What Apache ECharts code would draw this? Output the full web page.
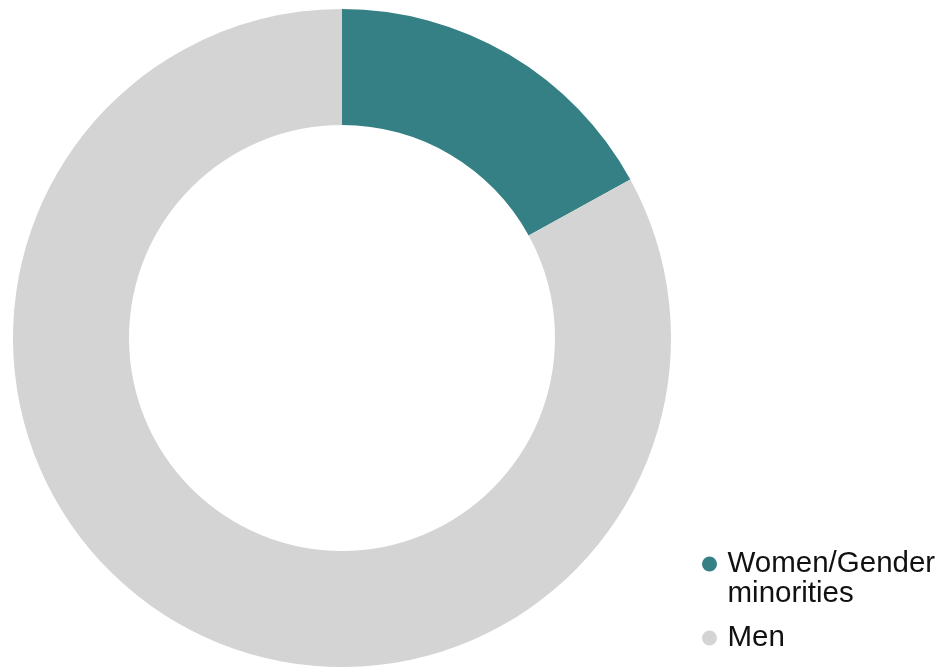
<!DOCTYPE html>
<html><head><meta charset="utf-8">
<script src="https://cdn.jsdelivr.net/npm/echarts@6/dist/echarts.min.js"></script>
<style>html,body{margin:0;padding:0;background:#fff}#c{width:942px;height:668px}</style>
</head><body><div id="c"></div>
<script>
const categories = ['Women/Gender minorities', 'Men'];
const values = [17, 83];
const colors = ['#358084', '#d3d4d3'];

const chart = echarts.init(document.getElementById('c'), null, {renderer: 'canvas'});
const font = 'Liberation Sans, Arial, Helvetica, sans-serif';
const legendBase = {
  orient: 'vertical',
  left: 697,
  icon: 'circle',
  itemWidth: 26,
  itemHeight: 15,
  itemGap: 10,
  selectedMode: false,
  textStyle: {fontFamily: font, fontSize: 29.5, color: '#111', lineHeight: 30}
};
chart.setOption({
  animation: false,
  legend: [
    Object.assign({}, legendBase, {
      top: 514,
      data: [categories[0]],
      formatter: n => '\n' + n.replace(' ', '\n')
    }),
    Object.assign({}, legendBase, {top: 618, data: [categories[1]]})
  ],
  series: [{
    type: 'pie',
    center: [342, 338],
    radius: [213, 329],
    startAngle: 90,
    clockwise: true,
    label: {show: false},
    labelLine: {show: false},
    emphasis: {disabled: true},
    itemStyle: {borderWidth: 0},
    data: categories.map((c, i) => ({name: c, value: values[i], itemStyle: {color: colors[i]}}))
  }]
});
</script></body></html>
